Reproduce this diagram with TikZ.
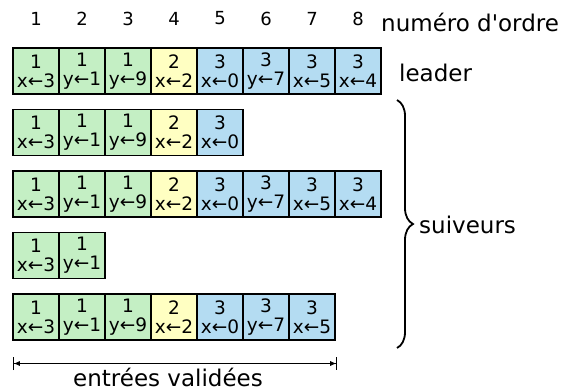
\documentclass[tikz,border=0pt]{standalone}
\usepackage{fontspec}
\setmainfont{DejaVu Sans}
\usetikzlibrary{arrows.meta,decorations.pathreplacing}
\definecolor{termA}{HTML}{C4EFC4}
\definecolor{termB}{HTML}{FFFFC2}
\definecolor{termC}{HTML}{B4DCF2}
\tikzset{
  entry/.style={draw=black, line width=1.4pt, minimum width=46pt, minimum height=46pt,
    inner sep=0pt, align=center, font=\fontsize{18.5}{19}\selectfont},
  idx/.style={font=\fontsize{18}{20}\selectfont},
  lbl/.style={font=\fontsize{23}{26}\selectfont, anchor=base west, inner sep=0pt},
}
\begin{document}
\begin{tikzpicture}[x=1pt,y=-1pt]
\fill[white] (0,0) rectangle (572,391);
\useasboundingbox (0,0) rectangle (572,391);
% index numbers
\foreach \i in {1,...,8}
  \node[idx] (n\i) at ({13+46*(\i-1)+23},18.5) {\i};
\node[lbl] (ordre) at (381,31) {numéro d\textquotesingle ordre};
% log rows: row / count
\foreach \r/\cnt in {1/8,2/5,3/8,4/2,5/7}{
  \foreach \i/\t/\c/\cmd in {1/1/termA/x←3,2/1/termA/y←1,3/1/termA/y←9,4/2/termB/x←2,
                             5/3/termC/x←0,6/3/termC/y←7,7/3/termC/x←5,8/3/termC/x←4}{
    \ifnum\i>\cnt\relax\else
      \node[entry, fill=\c] (c-\r-\i) at ({13+46*(\i-1)+23},{71+61.5*(\r-1)}) {\t\\\cmd};
    \fi
  }
}
\node[lbl] (leader) at (399,81) {leader};
% followers brace
\coordinate (bt) at (397,100);
\coordinate (bb) at (397,348);
\draw[line width=1.8pt, decorate, decoration={brace, amplitude=16pt}] (bt) -- (bb);
\node[lbl] (suiv) at (419,233) {suiveurs};
% committed entries
\coordinate (ca) at (13,363.5);
\coordinate (cb) at (337,363.5);
\draw[line width=0.8pt, {Bar[width=13pt]Latex[length=6pt,width=5pt]}-{Latex[length=6pt,width=5pt]Bar[width=13pt]}] (ca) -- (cb);
\node[font=\fontsize{23}{26}\selectfont, anchor=base, inner sep=0pt] (valid) at (168,386) {entrées validées};
\end{tikzpicture}
\end{document}
